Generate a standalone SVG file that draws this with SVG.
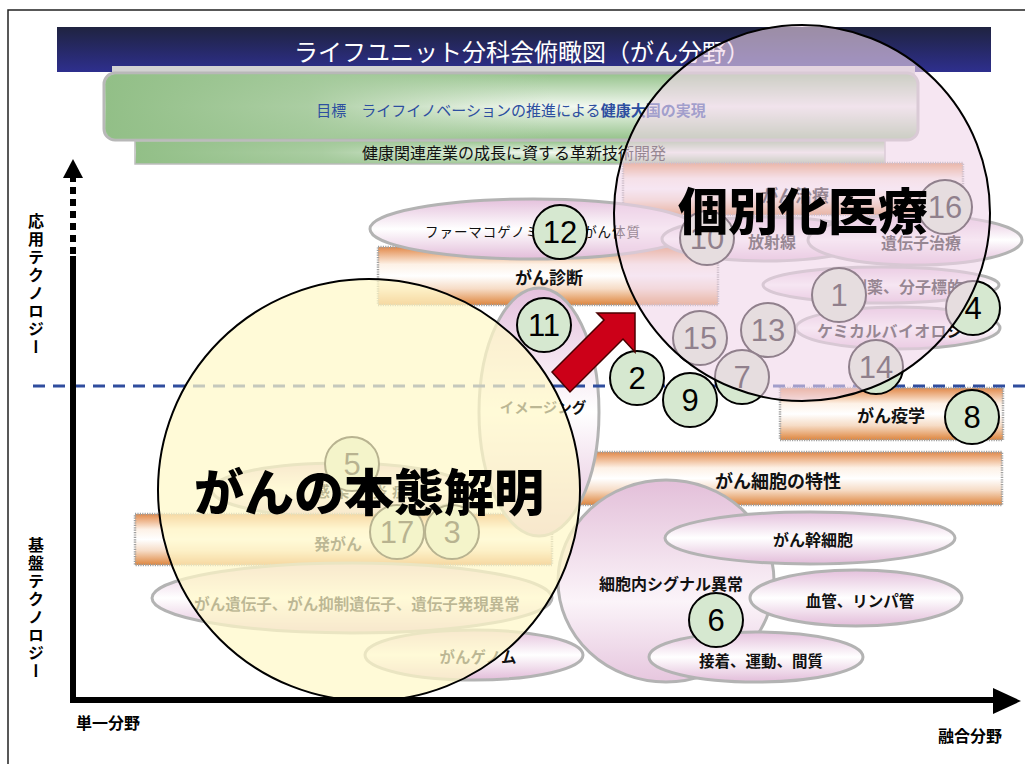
<svg xmlns="http://www.w3.org/2000/svg" width="1025" height="764" viewBox="0 0 1025 764">
<defs>
<linearGradient id="gTitle" x1="0" y1="0" x2="0" y2="1"><stop offset="0" stop-color="#1f2340"/><stop offset="1" stop-color="#2e2f8e"/></linearGradient>
<linearGradient id="gGreenV" x1="0" y1="0" x2="0" y2="1"><stop offset="0" stop-color="#94c28a"/><stop offset="0.5" stop-color="#f2f8f0"/><stop offset="1" stop-color="#94c28a"/></linearGradient>
<linearGradient id="gGreenH" x1="0" y1="0" x2="1" y2="0"><stop offset="0" stop-color="#92bf87" stop-opacity="1"/><stop offset="0.25" stop-color="#a3c99a" stop-opacity="0.9"/><stop offset="0.55" stop-color="#b5d4ad" stop-opacity="0"/></linearGradient>
<linearGradient id="gOrange" x1="0" y1="0" x2="0" y2="1"><stop offset="0" stop-color="#e2894a"/><stop offset="0.3" stop-color="#fdf1e6"/><stop offset="0.5" stop-color="#ffffff"/><stop offset="0.72" stop-color="#f6dcc6"/><stop offset="1" stop-color="#de853d"/></linearGradient>
<linearGradient id="gPink" x1="0" y1="0" x2="0" y2="1"><stop offset="0" stop-color="#e4c0dc"/><stop offset="0.5" stop-color="#ffffff"/><stop offset="1" stop-color="#e2bcd9"/></linearGradient>
<linearGradient id="gPinkBig" x1="0" y1="0" x2="0" y2="1"><stop offset="0" stop-color="#e3bfd9"/><stop offset="0.6" stop-color="#fbf4f9"/><stop offset="1" stop-color="#e6c6de"/></linearGradient>
</defs>
<style>
.bar{fill:url(#gOrange);stroke:#a0a0a0;stroke-width:2.5;stroke-dasharray:1.2 1.2}
.ell{fill:url(#gPink);stroke:#b3b3b3;stroke-width:3}
.num circle{fill:#d6e8d0;stroke:#000;stroke-width:2}
.num text{font-family:"Liberation Sans",Arial,sans-serif;font-size:31px;text-anchor:middle;fill:#000}
.lbl{font-family:"Noto Sans CJK JP",sans-serif;text-anchor:middle;fill:#111;font-weight:bold}
.start{text-anchor:start}
.reg{font-weight:normal}
.big{font-family:"Noto Sans CJK JP",sans-serif;text-anchor:middle;fill:#000;font-weight:900;font-size:50px}
.ax{font-family:"Noto Sans CJK JP",sans-serif;fill:#000;font-weight:bold;font-size:16px}
</style>

<g id="page-border" fill="none" stroke="#222" stroke-width="1.5">
<path d="M8,764 V10 H1025"/>
</g>

<g id="title">
<rect x="57" y="27" width="934" height="45" fill="url(#gTitle)"/>
<text x="522" y="61" font-family="Noto Sans CJK JP, sans-serif" font-size="24" fill="#fff" text-anchor="middle">ライフユニット分科会俯瞰図（がん分野）</text>
</g>

<g id="goal">
<rect x="112" y="66" width="803" height="12" fill="#d2d2d2"/>
<rect x="104" y="73" width="814" height="67" rx="11" fill="url(#gGreenV)" stroke="#b8b8b8" stroke-width="3"/>
<rect x="105.5" y="74.5" width="811" height="64" rx="10" fill="url(#gGreenH)"/>
<text x="511" y="116" font-family="Noto Sans CJK JP, sans-serif" font-size="15" fill="#2d4fa0" text-anchor="middle">目標　ライフイノベーションの推進による<tspan font-weight="bold">健康大国の実現</tspan></text>
</g>

<g id="subgoal">
<rect x="135" y="141" width="750" height="23" fill="url(#gGreenV)" stroke="#bdbdbd" stroke-width="1.5"/>
<rect x="136" y="142" width="748" height="21" fill="url(#gGreenH)"/>
<text x="514" y="159" font-family="Noto Sans CJK JP, sans-serif" font-size="16" fill="#111" text-anchor="middle">健康関連産業の成長に資する革新技術開発</text>
</g>

<!-- bars -->
<g id="bar-chiryo"><rect class="bar" x="623" y="163" width="340" height="52"/><text class="lbl" x="795" y="202" font-size="17">がん治療</text></g>
<g id="bar-shindan"><rect class="bar" x="378" y="247" width="340" height="58"/><text class="lbl" x="549" y="284" font-size="17">がん診断</text></g>
<g id="bar-ekigaku"><rect class="bar" x="780" y="388" width="223" height="52"/><text class="lbl" x="891" y="422" font-size="17">がん疫学</text></g>
<g id="bar-tokusei"><rect class="bar" x="578" y="452" width="424" height="53"/><text class="lbl" x="778" y="488" font-size="18">がん細胞の特性</text></g>
<g id="ell-kansen"><ellipse class="ell" cx="340" cy="490" rx="128" ry="27"/><text class="lbl" x="361" y="497" font-size="15" fill="#555" textLength="92">感染、炎症</text></g>
<g id="bar-hatsugan"><rect class="bar" x="135" y="514" width="417" height="51"/><text class="lbl" x="338" y="550" font-size="16" fill="#444">発がん</text></g>

<!-- ellipses -->
<g id="ell-pharmaco"><ellipse class="ell" cx="533" cy="229" rx="163" ry="30"/><text class="lbl start reg" x="425" y="237" font-size="13.5" textLength="215">ファーマコゲノミクス、がん体質</text></g>
<g id="ell-hoshasen"><ellipse class="ell" cx="766" cy="239" rx="104" ry="22"/><text class="lbl" x="772" y="248" font-size="16">放射線</text></g>
<g id="ell-idenshi-chiryo"><ellipse class="ell" cx="915" cy="240" rx="107" ry="25"/><text class="lbl" x="921" y="249" font-size="16">遺伝子治療</text></g>
<g id="ell-soyaku"><ellipse class="ell" cx="881" cy="285" rx="118" ry="18"/><text class="lbl" x="907" y="293" font-size="16">創薬、分子標的</text></g>
<g id="ell-chembio"><ellipse class="ell" cx="898" cy="328" rx="102" ry="21"/><text class="lbl start" x="817" y="337" font-size="16" textLength="162">ケミカルバイオロジー</text></g>
<g id="ell-imaging"><ellipse class="ell" cx="539" cy="412" rx="60" ry="124"/><text class="lbl" x="543" y="413" font-size="14.5" fill="#444">イメージング</text></g>
<g id="ell-signal"><ellipse cx="666" cy="581" rx="108" ry="101" fill="url(#gPinkBig)" stroke="#b3b3b3" stroke-width="3"/><text class="lbl" x="671" y="590" font-size="16">細胞内シグナル異常</text></g>
<g id="ell-kankansaibo"><ellipse class="ell" cx="810" cy="538" rx="145" ry="26"/><text class="lbl" x="813" y="546" font-size="16">がん幹細胞</text></g>
<g id="ell-kekkan"><ellipse class="ell" cx="856" cy="598" rx="106" ry="28"/><text class="lbl" x="860" y="607" font-size="15.5">血管、リンパ管</text></g>
<g id="ell-secchaku"><ellipse class="ell" cx="756" cy="657" rx="107" ry="25"/><text class="lbl" x="761" y="667" font-size="15.5">接着、運動、間質</text></g>
<g id="ell-idenshi"><ellipse class="ell" cx="352" cy="598" rx="200" ry="35"/><text class="lbl" x="357" y="610" font-size="15.5">がん遺伝子、がん抑制遺伝子、遺伝子発現異常</text></g>
<g id="ell-genome"><ellipse class="ell" cx="474" cy="655" rx="109" ry="25"/><text class="lbl" x="478" y="663" font-size="15.5">がんゲノム</text></g>

<g id="divider"><line x1="33" y1="386" x2="1025" y2="386" stroke="#2f4d9e" stroke-width="3" stroke-dasharray="12 8"/></g>

<!-- numbered nodes -->
<g id="n12" class="num"><circle cx="560" cy="232" r="27"/><text x="560" y="243">12</text></g>
<g id="n11" class="num"><circle cx="544" cy="325" r="27"/><text x="544" y="336">11</text></g>
<g id="n10" class="num"><circle cx="707" cy="238" r="27"/><text x="707" y="249">10</text></g>
<g id="n16" class="num"><circle cx="945" cy="207" r="27"/><text x="945" y="218">16</text></g>
<g id="n1" class="num"><circle cx="839" cy="295" r="27"/><text x="839" y="306">1</text></g>
<g id="n4" class="num"><circle cx="973" cy="308" r="27"/><text x="973" y="319">4</text></g>
<g id="n15" class="num"><circle cx="700" cy="338" r="27"/><text x="700" y="349">15</text></g>
<g id="n13" class="num"><circle cx="768" cy="330" r="27"/><text x="768" y="341">13</text></g>
<g id="n14" class="num"><circle cx="876" cy="367" r="27"/><text x="876" y="378">14</text></g>
<g id="n7" class="num"><circle cx="742" cy="377" r="27"/><text x="742" y="388">7</text></g>
<g id="n2" class="num"><circle cx="637" cy="378" r="27"/><text x="637" y="389">2</text></g>
<g id="n9" class="num"><circle cx="690" cy="400" r="27"/><text x="690" y="411">9</text></g>
<g id="n8" class="num"><circle cx="972" cy="417" r="27"/><text x="972" y="428">8</text></g>
<g id="n6" class="num"><circle cx="716" cy="620" r="27"/><text x="716" y="631">6</text></g>
<g id="n5" class="num"><circle cx="352" cy="464" r="27"/><text x="352" y="475">5</text></g>
<g id="n17" class="num"><circle cx="397" cy="532" r="27"/><text x="397" y="543">17</text></g>
<g id="n3" class="num"><circle cx="452" cy="532" r="27"/><text x="452" y="543">3</text></g>

<!-- big overlay circles -->
<g id="hontai">
<circle cx="369" cy="490" r="211" fill="#fff8c8" fill-opacity="0.72" stroke="#000" stroke-width="2"/>
<text class="big" x="369" y="511">がんの本態解明</text>
</g>
<g id="kobetsuka">
<circle cx="802" cy="213" r="188" fill="#f0d6ea" fill-opacity="0.6" stroke="#000" stroke-width="2"/>
<text class="big" x="803" y="230">個別化医療</text>
</g>

<g id="connectors">
<polygon points="552,372 604,320 597,313 635,313 635,352 623,339 570,392" fill="#cc0018" stroke="#4a0000" stroke-width="1.5"/>
</g>

<g id="axes">
<line x1="73" y1="256" x2="73" y2="703" stroke="#000" stroke-width="6"/>
<line x1="73" y1="254" x2="73" y2="176" stroke="#000" stroke-width="6" stroke-dasharray="7 5"/>
<polygon points="73,159 63,178 83,178" fill="#000"/>
<line x1="70" y1="700" x2="995" y2="700" stroke="#000" stroke-width="6"/>
<polygon points="1021,701 993,688 993,714" fill="#000"/>
<text class="ax" x="36" y="213" writing-mode="vertical-rl" letter-spacing="2">応用テクノロジー</text>
<text class="ax" x="36" y="537" writing-mode="vertical-rl" letter-spacing="2">基盤テクノロジー</text>
<text class="ax" x="76" y="729" font-size="17">単一分野</text>
<text class="ax" x="938" y="742" font-size="17">融合分野</text>
</g>
</svg>
